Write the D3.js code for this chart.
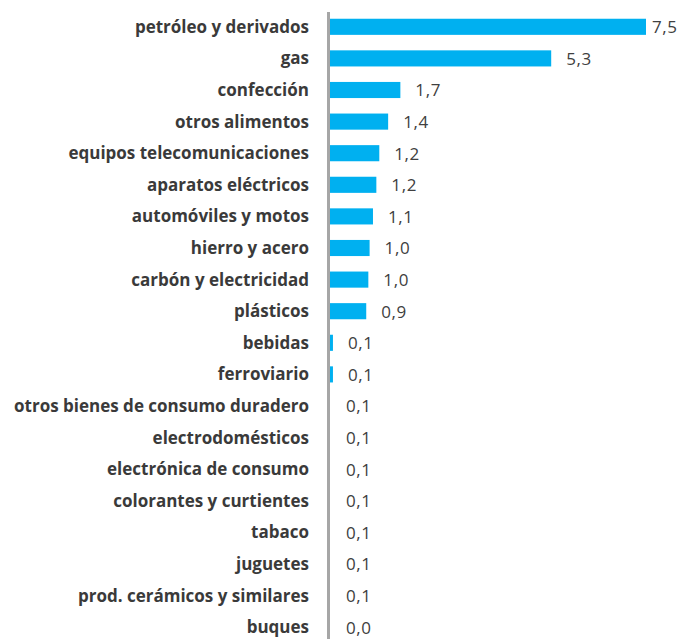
<!DOCTYPE html>
<html><head><meta charset="utf-8">
<script src="https://cdn.jsdelivr.net/npm/d3@7"></script>
<style>html,body{margin:0;padding:0;background:#fff;}</style>
</head><body>
<svg id="c" width="692" height="639"></svg>
<script>
const categories = ["petróleo y derivados","gas","confección","otros alimentos","equipos telecomunicaciones","aparatos eléctricos","automóviles y motos","hierro y acero","carbón y electricidad","plásticos","bebidas","ferroviario","otros bienes de consumo duradero","electrodomésticos","electrónica de consumo","colorantes y curtientes","tabaco","juguetes","prod. cerámicos y similares","buques"];
const values = [7.5,5.25,1.67,1.38,1.17,1.10,1.02,0.94,0.91,0.86,0.07,0.07,0.0,0.0,0.0,0.0,0.0,0.0,0.0,0.0];
const valueLabels = ["7,5","5,3","1,7","1,4","1,2","1,2","1,1","1,0","1,0","0,9","0,1","0,1","0,1","0,1","0,1","0,1","0,1","0,1","0,1","0,0"];

const svg = d3.select("#c");
const x0 = 330, x1 = 646;
const x = d3.scaleLinear().domain([0,7.5]).range([x0,x1]);
const y = d3.scaleBand().domain(categories).range([11,643]).paddingInner(0.49).paddingOuter(0.245);

svg.append("g").selectAll("rect").data(categories).join("rect")
  .attr("x", x(0)).attr("y", d=>y(d)).attr("height", y.bandwidth())
  .attr("width", (d,i)=>x(values[i])-x(0)).attr("fill","#00B0F0");

svg.append("line").attr("x1",328.5).attr("x2",328.5).attr("y1",12).attr("y2",639)
  .attr("stroke","#A6A6A6").attr("stroke-width",3);

svg.append("g").selectAll("text").data(categories).join("text")
  .attr("x", 309).attr("y", d=>y(d)+y.bandwidth()/2).attr("dy","0.35em")
  .attr("text-anchor","end").attr("font-family","'Open Sans', sans-serif")
  .attr("font-weight","bold").attr("font-size","17px").attr("fill","#3a3a3a")
  .text(d=>d);

svg.append("g").selectAll("text").data(categories).join("text")
  .attr("x", (d,i)=>Math.min(Math.max(x(values[i]), x0+1) + 15, 652))
  .attr("y", d=>y(d)+y.bandwidth()/2).attr("dy","0.38em")
  .attr("font-family","'Open Sans', sans-serif").attr("font-size","17px").attr("fill","#404040")
  .attr("letter-spacing","0.6px")
  .text((d,i)=>valueLabels[i]);
</script>
</body></html>
